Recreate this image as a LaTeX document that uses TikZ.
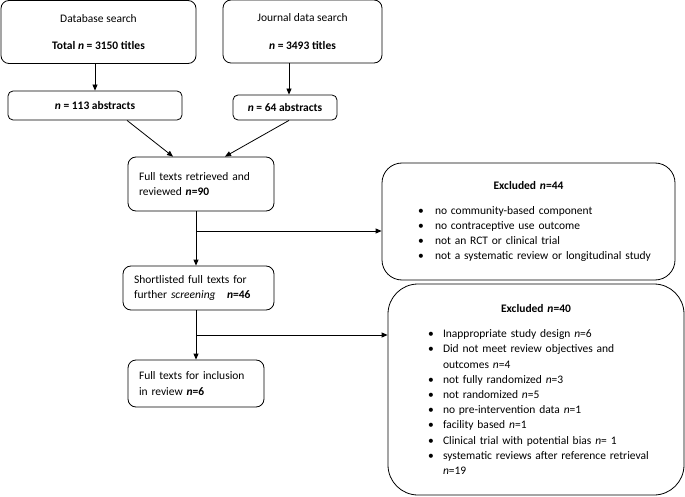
\documentclass[tikz,border=0pt]{standalone}
\usepackage{fontspec}
\setmainfont{Carlito}
\usetikzlibrary{arrows.meta}

\tikzset{
  box/.style={draw, rounded corners=8pt, line width=0.8pt, inner sep=0pt, align=center},
  lbox/.style={box, align=left},
  exbox/.style={draw, line width=0.8pt, inner sep=0pt, align=left},
  arr/.style={-{Triangle[length=6pt,width=5pt]}, line width=0.8pt},
}
\newcommand{\nn}{\textit{n}}
\newlength{\bpre}
\newlength{\bgap}
\newcommand{\bitem}[1]{\par\hangindent=\dimexpr\bpre+\bgap\relax\hangafter=1\noindent\hspace*{\bpre}\makebox[\bgap][l]{\textbullet}#1}
\newcommand{\extitle}[1]{\noindent\makebox[\linewidth]{\textbf{#1}}\par\vspace{10pt}}

\begin{document}
\begin{tikzpicture}[x=1pt,y=-1pt,font=\fontsize{11.5}{15.2}\selectfont]
\useasboundingbox (0,0) rectangle (685,497);

% searches
\node[box, minimum width=195pt, minimum height=63pt] (db) at (98.5,32)
  {Database search\\[12pt]\textbf{Total \nn{} = 3150 titles}};
\node[box, minimum width=159pt, minimum height=63pt] (jr) at (302.5,31.5)
  {Journal data search\\[12pt]\textbf{\nn{} = 3493 titles}};

% abstracts
\node[box, rounded corners=5pt, minimum width=174pt, minimum height=29pt] (abs1) at (95,105.5)
  {\textbf{\nn{} = 113 abstracts}};
\node[box, rounded corners=5pt, minimum width=104pt, minimum height=25pt] (abs2) at (285,107.5)
  {\textbf{\nn{} = 64 abstracts}};

% full texts
\node[lbox, text width=124pt, minimum width=146pt, minimum height=54pt] (full) at (201,184)
  {Full texts retrieved and\\reviewed \textbf{\nn=90}};
\node[lbox, text width=129pt, minimum width=151pt, minimum height=44pt] (short) at (198.5,288)
  {Shortlisted full texts for\\further \textit{screening}\quad\textbf{\nn=46}};
\node[lbox, text width=114pt, minimum width=136pt, minimum height=47pt] (incl) at (196,383.5)
  {Full texts for inclusion\\in review \textbf{\nn=6}};

% exclusions
\node[exbox, rounded corners=20pt, text width=253pt, minimum width=293pt, minimum height=117pt] (ex44) at (528.5,221.5)
  {\setlength{\bpre}{16pt}\setlength{\bgap}{17pt}%
   \extitle{Excluded \nn=44}
   \bitem{no community-based component}
   \bitem{no contraceptive use outcome}
   \bitem{not an RCT or clinical trial}
   \bitem{not a systematic review or longitudinal study}\par};
\node[exbox, rounded corners=30pt, text width=260pt, minimum width=296pt, minimum height=211pt] (ex40) at (536,389.5)
  {\setlength{\bpre}{22pt}\setlength{\bgap}{15pt}%
   \extitle{Excluded \nn=40}
   \bitem{Inappropriate study design \nn=6}
   \bitem{Did not meet review objectives and\hfil\break outcomes \nn=4}
   \bitem{not fully randomized \nn=3}
   \bitem{not randomized \nn=5}
   \bitem{no pre-intervention data \nn=1}
   \bitem{facility based \nn=1}
   \bitem{Clinical trial with potential bias \nn= 1}
   \bitem{systematic reviews after reference retrieval\hfil\break \nn=19}\par};

% connectors
\draw[arr] (abs1.north |- db.south) -- (abs1.north);
\draw[arr] ([xshift=4pt]abs2.north |- jr.south) -- ([xshift=4pt]abs2.north);
\draw[arr] ([xshift=32pt]abs1.south) -- ([xshift=-28pt]full.north);
\draw[arr] ([xshift=4pt]abs2.south) -- ([xshift=24pt]full.north);

\coordinate (b1) at (196,231);
\coordinate (b2) at (196,335);
\draw[arr] (incl.north |- full.south) -- (incl.north |- short.north);
\draw[arr] (b1) -- (b1 -| ex44.west);
\draw[arr] (incl.north |- short.south) -- (incl.north);
\draw[arr] (b2) -- (b2 -| ex40.west);
\end{tikzpicture}
\end{document}
